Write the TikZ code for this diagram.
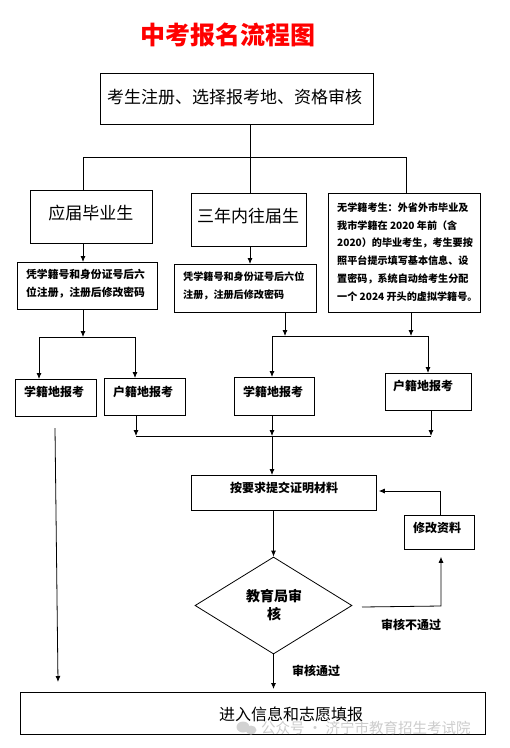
\documentclass[tikz,border=0pt]{standalone}
\usepackage{fontspec}
\setmainfont{Noto Sans CJK SC}
\usetikzlibrary{arrows.meta,shapes.geometric}
\begin{document}
\begin{tikzpicture}[x=1pt,y=-1pt,
  box/.style={draw,line width=0.8pt,inner sep=0pt,anchor=north west},
  ln/.style={line width=0.8pt},
  arr/.style={line width=0.8pt,-{Latex[length=6pt,width=5pt]}},
  big/.style={inner sep=0pt,font=\fontsize{17}{20}\selectfont},
  mid/.style={inner sep=0pt,font=\bfseries\fontsize{12}{14}\selectfont},
  small/.style={inner sep=0pt,anchor=west,align=left,font=\bfseries\fontsize{10.1}{17.8}\selectfont}]
\useasboundingbox[fill=white] (0,0) rectangle (510,748);

% title
\node[inner sep=0pt,text=red,font=\bfseries\fontsize{25}{28}\selectfont] (title) at (228,35) {中考报名流程图};

% top
\node[box,minimum width=273pt,minimum height=51pt] (top) at (100,73) {};
\node[big,anchor=west] (toptxt) at (107,97) {考生注册、选择报考地、资格审核};

% three categories
\node[box,minimum width=122pt,minimum height=53pt] (b1) at (30,190) {};
\node[big] (b1t) at (91,213) {应届毕业生};
\node[box,minimum width=115pt,minimum height=53pt] (b2) at (191,193) {};
\node[big] (b2t) at (248,216) {三年内往届生};
\node[box,minimum width=152pt,minimum height=119pt] (b3) at (328,193) {};
\node[small] (b3t) at (337,252) {无学籍考生：外省外市毕业及\\我市学籍在 2020 年前（含\\2020）的毕业考生，考生要按\\照平台提示填写基本信息、设\\置密码，系统自动给考生分配\\一个 2024 开头的虚拟学籍号。};

% registration boxes
\node[box,minimum width=140pt,minimum height=47pt] (b1b) at (17,262) {};
\node[small,font=\bfseries\fontsize{10.8}{17.8}\selectfont] (b1bt) at (26,284) {凭学籍号和身份证号后六\\位注册，注册后修改密码};
\node[box,minimum width=142pt,minimum height=48pt] (b2b) at (174,264) {};
\node[small] (b2bt) at (183,286) {凭学籍号和身份证号后六位\\注册，注册后修改密码};

% choice boxes
\node[box,minimum width=81pt,minimum height=37pt] (s1) at (15,379) {};
\node[mid] (s1t) at (54,392) {学籍地报考};
\node[box,minimum width=81pt,minimum height=37pt] (h1) at (104,378) {};
\node[mid] (h1t) at (143,392) {户籍地报考};
\node[box,minimum width=80pt,minimum height=38pt] (s2) at (234,377) {};
\node[mid] (s2t) at (273,392) {学籍地报考};
\node[box,minimum width=86pt,minimum height=37pt] (h2) at (385,373) {};
\node[mid] (h2t) at (423,386) {户籍地报考};

% submit / review
\node[box,minimum width=185pt,minimum height=35pt] (sub) at (191,475) {};
\node[mid] (subt) at (284,488) {按要求提交证明材料};
\node[draw,diamond,line width=0.8pt,inner sep=0pt,minimum width=157pt,minimum height=97pt] (dia) at (273.5,605.5) {};
\node[inner sep=0pt,align=center,font=\bfseries\fontsize{14}{18}\selectfont] (diat) at (274,605) {教育局审\\核};
\node[box,minimum width=70pt,minimum height=34pt] (mod) at (404,515) {};
\node[mid] (modt) at (437,528) {修改资料};
\node[mid] (nok) at (411,625) {审核不通过};
\node[mid] (ok) at (316,671) {审核通过};

% final
\node[box,minimum width=465pt,minimum height=42pt] (bot) at (20,692) {};
\node[inner sep=0pt,font=\fontsize{16}{19}\selectfont] (bott) at (291,714) {进入信息和志愿填报};

% watermark
\fill[gray!35] (243,727) ellipse (6.5pt and 5.5pt);
\fill[gray!35] (251,730) ellipse (5.5pt and 4.5pt);
\node[inner sep=0pt,anchor=west,text=gray!40,font=\fontsize{14.5}{16}\selectfont] (wm) at (261,728) {公众号 · 济宁市教育招生考试院};

% junction coordinates
\coordinate (bj) at (250,157);
\coordinate (hl) at (83,157);
\coordinate (hr) at (406,157);
\coordinate (xA) at (83,0);
\coordinate (j1) at (83,337);
\coordinate (j1l) at (39,337);
\coordinate (j1r) at (135,337);
\coordinate (xB) at (285,0);
\coordinate (xC) at (411,0);
\coordinate (j2l) at (272,336);
\coordinate (j2r) at (428,336);
\coordinate (k1) at (136,436);
\coordinate (k2) at (272,436);
\coordinate (k3) at (431,436);
\coordinate (L1) at (55,428);
\coordinate (L2) at (58,682);
\coordinate (r1) at (362,607);
\coordinate (r2) at (441,606);
\coordinate (u1) at (440,491);

% connectors
\draw[ln] (top.south -| bj) -- (bj);
\draw[ln] (hl) -- (hr);
\draw[ln] (hl) -- (b1.north -| hl);
\draw[ln] (bj) -- (b2.north -| bj);
\draw[ln] (hr) -- (b3.north -| hr);
\draw[arr] (b1.south -| xA) -- (b1b.north -| xA);
\draw[arr] (b2.south -| bj) -- (b2b.north -| bj);
\draw[arr] (b1b.south -| xA) -- (j1);
\draw[ln] (j1l) -- (j1r);
\draw[arr] (j1l) -- (s1.north -| j1l);
\draw[arr] (j1r) -- (h1.north -| j1r);
\draw[arr] (b2b.south -| xB) -- (j2l -| xB);
\draw[arr] (b3.south -| xC) -- (j2l -| xC);
\draw[ln] (j2l) -- (j2r);
\draw[arr] (j2l) -- (s2.north -| j2l);
\draw[arr] (j2r) -- (h2.north -| j2r);
\draw[arr] (h1.south -| k1) -- (k1);
\draw[arr] (s2.south -| k2) -- (k2);
\draw[arr] (h2.south -| k3) -- (k3);
\draw[ln] (k1) -- (k3);
\draw[arr] (k2) -- (sub.north -| k2);
\draw[arr] (L1) -- (L2);
\draw[arr] (sub.south -| dia) -- (dia.north);
\draw[arr,shorten >=7pt] (r1) -- (r2) -- (mod.south -| r2);
\draw[arr,shorten >=2pt] (mod.north -| u1) -- (u1) -- (sub.east |- u1);
\draw[arr,shorten >=3pt] (dia.south) -- (bot.north -| dia);
\end{tikzpicture}
\end{document}
